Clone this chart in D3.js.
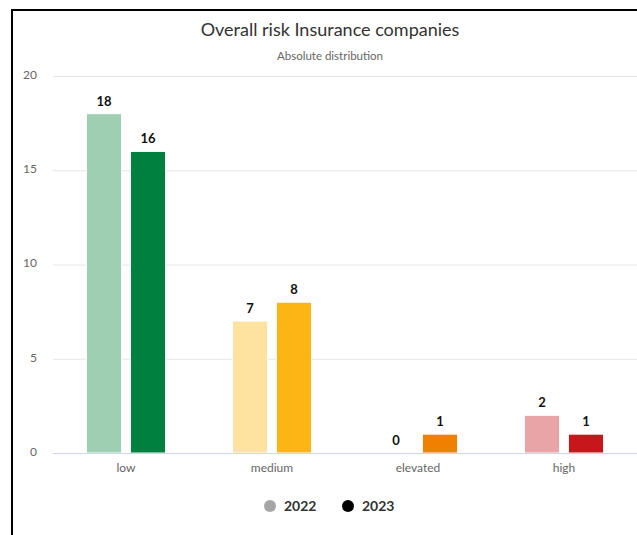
<!DOCTYPE html>
<html>
<head>
<meta charset="utf-8">
<script src="https://cdn.jsdelivr.net/npm/d3@7"></script>
<style>
  html, body { margin: 0; padding: 0; background: #fff; }
  svg { display: block; font-family: Lato, "Open Sans", sans-serif; }
</style>
</head>
<body>
<svg id="chart" width="637" height="535"></svg>
<script>
// Risk categories and counts per year
const categories = ["low", "medium", "elevated", "high"];
const years = ["2022", "2023"];
const values2022 = [18, 7, 0, 2];
const values2023 = [16, 8, 1, 1];
const colors2022 = ["#9ecfb3", "#fee2a0", "#f9c98f", "#e8a4a6"];
const colors2023 = ["#00803f", "#fdb515", "#f08000", "#c8161d"];
const legendColors = ["#a6a6a6", "#000000"];
const yTicks = [0, 5, 10, 15, 20];

const svg = d3.select("#chart");
const W = 637, H = 535;
const margin = { left: 53, right: 0, top: 76, bottom: 82 };

// frame
svg.append("line").attr("x1", 12).attr("x2", 12).attr("y1", 9).attr("y2", H)
  .attr("stroke", "#000").attr("stroke-width", 2);
svg.append("line").attr("x1", 11).attr("x2", W).attr("y1", 10).attr("y2", 10)
  .attr("stroke", "#000").attr("stroke-width", 2);

// titles
svg.append("text").attr("x", 330).attr("y", 36).attr("text-anchor", "middle")
  .attr("font-size", 18).attr("fill", "#333").text("Overall risk Insurance companies");
svg.append("text").attr("x", 330).attr("y", 60).attr("text-anchor", "middle")
  .attr("font-size", 11.5).attr("fill", "#666").text("Absolute distribution");

const x = d3.scaleBand().domain(categories).range([margin.left, W - margin.right]);
const y = d3.scaleLinear().domain([0, 20]).range([H - margin.bottom, margin.top]);

// gridlines
svg.append("g").selectAll("line").data(yTicks.filter(d => d > 0)).join("line")
  .attr("x1", margin.left).attr("x2", W).attr("y1", d => y(d) + 0.5).attr("y2", d => y(d) + 0.5)
  .attr("stroke", "#e6e6e6");

// y axis labels
const yAxis = d3.axisLeft(y).tickValues(yTicks).tickSize(0).tickPadding(0);
const gy = svg.append("g").attr("transform", `translate(37,0)`).call(yAxis);
gy.select(".domain").remove();
gy.selectAll("text").attr("font-size", 12).attr("fill", "#666")
  .attr("font-family", "Lato, sans-serif").attr("dy", "0.2em");

// bars
const inner = d3.scaleBand().domain(years).range([0, x.bandwidth()])
  .paddingInner(0.2).paddingOuter(0.76);
const series = [values2022, values2023];
const palettes = [colors2022, colors2023];
years.forEach((yr, si) => {
  const g = svg.append("g");
  const rows = categories.map((c, i) => ({ c, v: series[si][i], col: palettes[si][i] }));
  g.selectAll("rect").data(rows).join("rect")
    .attr("x", d => x(d.c) + inner(yr))
    .attr("width", inner.bandwidth())
    .attr("y", d => y(d.v))
    .attr("height", d => y(0) - y(d.v))
    .attr("fill", d => d.col)
    .attr("stroke", "#fff").attr("stroke-width", 1);
  g.selectAll("text").data(rows).join("text")
    .attr("x", d => x(d.c) + inner(yr) + inner.bandwidth() / 2)
    .attr("y", d => y(d.v) - 8)
    .attr("text-anchor", "middle")
    .attr("font-size", 13).attr("font-weight", "bold").attr("fill", "#111")
    .text(d => d.v);
});

// x axis
const xAxis = d3.axisBottom(x).tickSize(0).tickPadding(10);
const gx = svg.append("g").attr("transform", `translate(0,${y(0) + 0.5})`).call(xAxis);
gx.select(".domain").attr("stroke", "#ccd6eb").attr("d", `M${margin.left},0H${W}`);
gx.selectAll("text").attr("font-size", 12).attr("fill", "#666")
  .attr("font-family", "Lato, sans-serif");

// legend
const legendX = [270, 348];
years.forEach((yr, i) => {
  svg.append("circle").attr("cx", legendX[i]).attr("cy", 506).attr("r", 6)
    .attr("fill", legendColors[i]);
  svg.append("text").attr("x", legendX[i] + 14).attr("y", 511)
    .attr("font-size", 14).attr("font-weight", "bold").attr("fill", "#333").text(yr);
});
</script>
</body>
</html>
